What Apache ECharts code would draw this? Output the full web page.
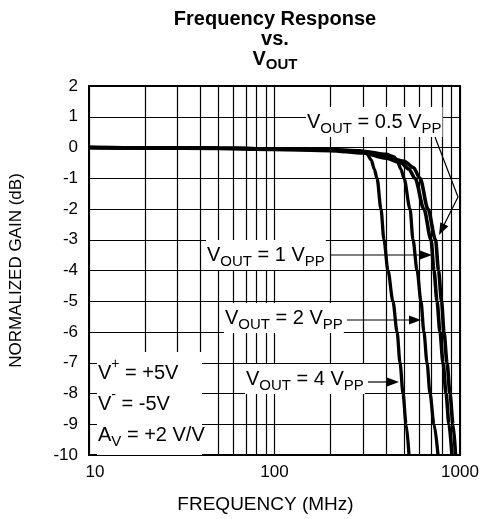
<!DOCTYPE html>
<html><head><meta charset="utf-8">
<script src="https://cdn.jsdelivr.net/npm/echarts@6/dist/echarts.min.js"></script>
<style>html,body{margin:0;padding:0;background:#fff}#c{width:482px;height:519px}</style>
</head><body><div id="c"></div>
<script>
// ---- data ----
const xTickValues = [10, 100, 1000];
const minorFreqs = [20, 30, 40, 50, 60, 70, 80, 90, 200, 300, 400, 500, 600, 700, 800, 900];
const yTickValues = [-10, -9, -8, -7, -6, -5, -4, -3, -2, -1, 0, 1, 2];

const freq05 = [10, 20, 50, 100, 200, 300, 400, 500, 560, 609, 672, 738, 766, 795, 820, 851, 883, 917, 946];
const gain05 = [0, -0.01, -0.02, -0.05, -0.08, -0.15, -0.3, -0.45, -0.65, -1, -2, -3, -4, -5, -6, -7, -8, -9, -10];

const freq1 = [10, 20, 50, 100, 200, 300, 400, 480, 530, 572, 639, 698, 724, 752, 780, 810, 841, 872, 905];
const gain1 = [0, -0.02, -0.03, -0.06, -0.1, -0.18, -0.35, -0.5, -0.7, -1, -2, -3, -4, -5, -6, -7, -8, -9, -10];

const freq2 = [10, 50, 100, 200, 300, 400, 440, 460, 480, 499, 538, 558, 587, 616, 639, 664, 689, 724, 761];
const gain2 = [0, -0.02, -0.04, -0.07, -0.12, -0.22, -0.3, -0.45, -0.7, -1, -2, -3, -4, -5, -6, -7, -8, -9, -10];

const freq4 = [10, 50, 100, 200, 290, 315, 332, 345, 357, 375, 389, 409, 435, 458, 475, 493, 512, 531];
const gain4 = [0, -0.02, -0.04, -0.07, -0.1, -0.2, -0.4, -0.7, -1, -2, -3, -4, -5, -6, -7, -8, -9, -10];

const seriesNames = ['VOUT = 0.5 VPP', 'VOUT = 1 VPP', 'VOUT = 2 VPP', 'VOUT = 4 VPP'];

// ---- chart ----
const FF = 'Liberation Sans, Arial, Helvetica, sans-serif';
const zip = (xs, ys) => xs.map((x, i) => [x, ys[i]]);
const chart = echarts.init(document.getElementById('c'), null, {renderer: 'canvas'});

function curve(name, xs, ys, w) {
  return {
    name, type: 'line', data: zip(xs, ys), showSymbol: false, symbol: 'none',
    smooth: 0.3, smoothMonotone: 'x', z: 5, clip: true,
    lineStyle: {color: '#000', width: w}
  };
}

const richBase = {
  m: {fontSize: 20, fontFamily: FF, fill: '#000', color: '#000'},
  s: {fontSize: 15, fontFamily: FF, fill: '#000', color: '#000', padding: [13, 0, 0, 0]},
  sup: {fontSize: 14, fontFamily: FF, fill: '#000', color: '#000', padding: [0, 0, 17, 0]}
};

function label(x, y, text) {
  return {
    type: 'text', x, y, z: 20,
    style: {text, rich: richBase, fill: '#000', font: '20px ' + FF, verticalAlign: 'middle',
      backgroundColor: '#fff', padding: [1, 1, 1, 1]}
  };
}
function hline(x1, x2, y) {
  return {type: 'line', z: 20, shape: {x1, y1: y, x2, y2: y}, style: {stroke: '#000', lineWidth: 1.2}};
}
function head(tx, ty, fx, fy) {
  const dx = tx - fx, dy = ty - fy, L = Math.hypot(dx, dy);
  const ux = dx / L, uy = dy / L, px = -uy, py = ux;
  const bx = tx - 12 * ux, by = ty - 12 * uy;
  return {type: 'polygon', z: 21, shape: {points: [[tx, ty], [bx + 4.5 * px, by + 4.5 * py], [bx - 4.5 * px, by - 4.5 * py]]},
    style: {fill: '#000'}};
}

const option = {
  animation: false,
  backgroundColor: '#fff',
  grid: {left: 89, right: 22, top: 86, bottom: 63, show: true, borderColor: '#000', borderWidth: 2, backgroundColor: 'transparent', z: 10},
  xAxis: {
    type: 'log', logBase: 10, min: 10, max: 1000,
    name: 'FREQUENCY (MHz)', nameLocation: 'middle', nameGap: 40,
    nameTextStyle: {fontFamily: FF, fontSize: 19, color: '#000', padding: [0, 18, 0, 0]},
    axisLine: {show: false}, axisTick: {show: false},
    axisLabel: {fontFamily: FF, fontSize: 17, color: '#000', margin: 9,
      rich: {first: {fontFamily: FF, fontSize: 17, color: '#000', padding: [0, 0, 0, 12]}},
      formatter: v => {
        const r = Math.round(v);
        if (!xTickValues.includes(r)) return '';
        return r === xTickValues[0] ? '{first|' + r + '}' : String(r);
      }},
    splitLine: {show: true, lineStyle: {color: '#000', width: 1.2}}
  },
  yAxis: {
    type: 'value', min: -10, max: 2, interval: 1,
    name: 'NORMALIZED GAIN (dB)', nameLocation: 'middle', nameGap: 64,
    nameTextStyle: {fontFamily: FF, fontSize: 17, color: '#000'},
    axisLine: {show: false}, axisTick: {show: false},
    axisLabel: {fontFamily: FF, fontSize: 17, color: '#000', margin: 11,
      formatter: v => (yTickValues.includes(v) ? String(v) : '')},
    splitLine: {show: true, lineStyle: {color: '#000', width: 1.2}}
  },
  series: [
    {
      type: 'line', data: [], z: 1, silent: true,
      markLine: {silent: true, symbol: ['none', 'none'], animation: false, label: {show: false},
        lineStyle: {color: '#000', width: 1.2, type: 'solid'},
        emphasis: {disabled: true},
        data: minorFreqs.map(f => ({xAxis: f}))}
    },
    curve(seriesNames[0], freq05, gain05, 3.6),
    curve(seriesNames[1], freq1, gain1, 3.6),
    curve(seriesNames[2], freq2, gain2, 3.3),
    curve(seriesNames[3], freq4, gain4, 3.3)
  ],
  graphic: [
    {type: 'text', x: 275, y: 19, z: 20, style: {text: 'Frequency Response', font: 'bold 20px ' + FF, fill: '#000', align: 'center', verticalAlign: 'middle'}},
    {type: 'text', x: 275, y: 39, z: 20, style: {text: 'vs.', font: 'bold 20px ' + FF, fill: '#000', align: 'center', verticalAlign: 'middle'}},
    {type: 'text', x: 275, y: 59, z: 20, style: {text: '{a|V}{b|OUT}', align: 'center', verticalAlign: 'middle',
      rich: {a: {font: 'bold 20px ' + FF, fill: '#000'}, b: {font: 'bold 15px ' + FF, fill: '#000', padding: [12, 0, 0, 0]}}}},
    // labels
    label(306, 122, '{m|V}{s|OUT}{m| = 0.5 V}{s|PP}'),
    label(206, 255, '{m|V}{s|OUT}{m| = 1 V}{s|PP}'),
    label(224, 318, '{m|V}{s|OUT}{m| = 2 V}{s|PP}'),
    label(245, 379, '{m|V}{s|OUT}{m| = 4 V}{s|PP}'),
    {type: 'rect', z: 19, shape: {x: 97, y: 352, width: 105, height: 103}, style: {fill: '#fff'}},
    {type: 'text', x: 98, y: 373, z: 20, style: {text: '{m|V}{sup|+}{m| = +5V}', rich: richBase, verticalAlign: 'middle'}},
    {type: 'text', x: 98, y: 404, z: 20, style: {text: '{m|V}{sup|-}{m| = -5V}', rich: richBase, verticalAlign: 'middle'}},
    {type: 'text', x: 98, y: 435, z: 20, style: {text: '{m|A}{s|V}{m| = +2 V/V}', rich: richBase, verticalAlign: 'middle'}},
    // arrows
    hline(330, 424, 255), head(432, 255, 330, 255),
    hline(347, 413, 320), head(421, 320, 347, 320),
    hline(368, 391, 382), head(399, 382, 368, 382),
    {type: 'polyline', z: 20, shape: {points: [[435, 137], [458, 197], [444, 225]]}, style: {stroke: '#000', lineWidth: 1.2, fill: null}},
    head(439, 235, 458, 197)
  ]
};
chart.setOption(option);
</script></body></html>
